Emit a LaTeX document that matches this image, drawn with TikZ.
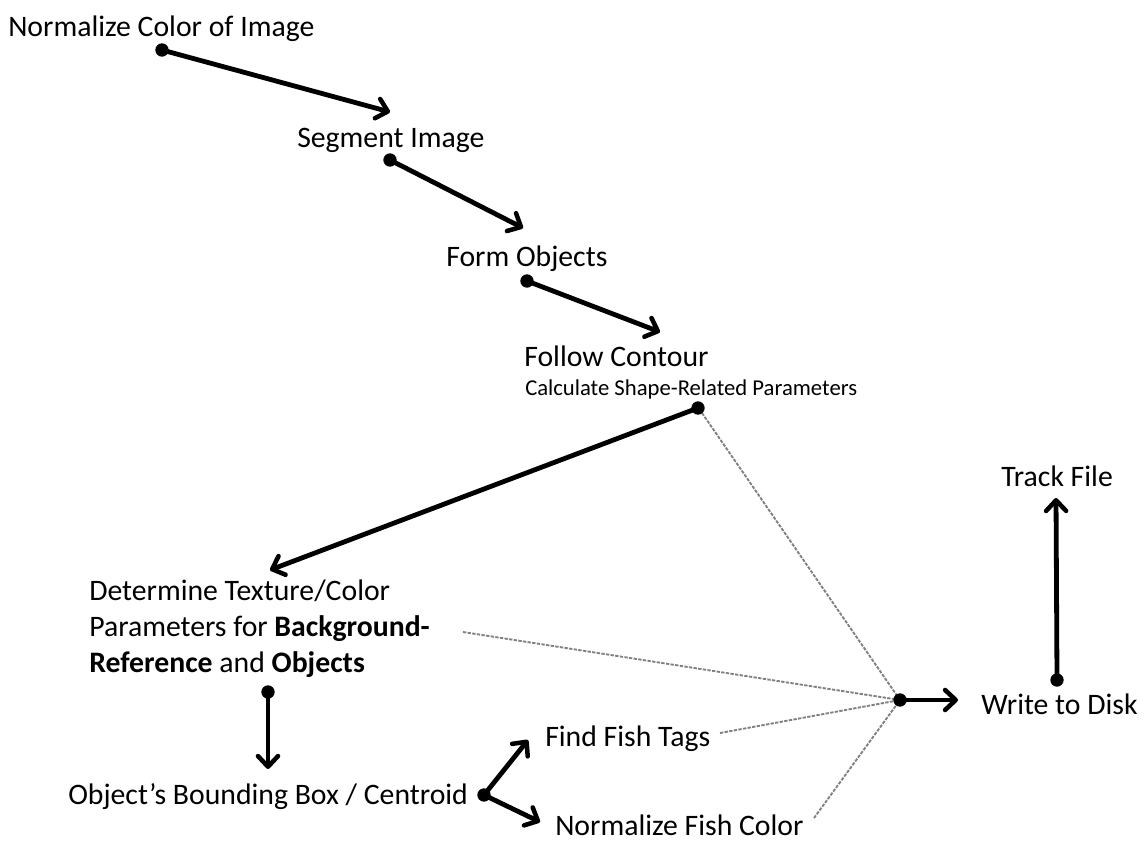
\documentclass[tikz,border=0pt]{standalone}
\usepackage{fontspec}
\setmainfont{Carlito}
\usetikzlibrary{arrows.meta}
\pgfdeclarelayer{fg}
\pgfsetlayers{main,fg}
\begin{document}
\begin{tikzpicture}[x=0.75pt,y=-0.75pt,
  lbl/.style={anchor=base west,inner sep=0pt,font=\fontsize{22.3}{27}\selectfont},
  small/.style={anchor=base west,inner sep=0pt,font=\fontsize{17}{20}\selectfont},
  dot/.style={circle,fill=black,inner sep=0pt,minimum size=10pt},
  arr/.style={line width=3.6pt,-{Straight Barb[length=8pt,width=15pt,line width=3.4pt,round]}},
  gline/.style={draw=black!50,line width=1.4pt,dash pattern=on 2.5pt off 1pt}]
\useasboundingbox (0,0) rectangle (1144,845);
% texts
\node[lbl] (norm) at (8,37) {Normalize Color of Image};
\node[lbl] (seg) at (297,147) {Segment Image};
\node[lbl] (form) at (446,266) {Form Objects};
\node[lbl] (follow) at (524,366) {Follow Contour};
\node[small] (calc) at (525,395) {Calculate Shape-Related Parameters};
\node[lbl,align=left,anchor=north west] (tex) at (89,580) {Determine Texture/Color\\Parameters for \textbf{Background-}\\\textbf{Reference} and \textbf{Objects}};
\node[lbl] (bbox) at (68,804) {Object’s Bounding Box / Centroid};
\node[lbl] (tags) at (545,746) {Find Fish Tags};
\node[lbl] (fcol) at (555,835) {Normalize Fish Color};
\node[lbl] (disk) at (981,714) {Write to Disk};
\node[lbl] (track) at (1001,486) {Track File};
% dots (on top)
\begin{pgfonlayer}{fg}
\node[dot] (d1) at (162,50) {};
\node[dot] (d2) at (390,160) {};
\node[dot] (d3) at (527,281) {};
\node[dot] (d4) at (698,408) {};
\node[dot] (d5) at (268,692) {};
\node[dot] (d6) at (484,795) {};
\node[dot] (hub) at (900,700) {};
\node[dot] (d8) at (1057,680) {};
\end{pgfonlayer}
% arrow ends
\coordinate (t1) at (390,112);
\coordinate (t2) at (523,228);
\coordinate (t3) at (660,332);
\coordinate (t4) at (270,570);
\coordinate (t5) at (268,769);
\coordinate (t6a) at (528,740);
\coordinate (t6b) at (540,822);
\coordinate (t7) at (958,700);
\coordinate (t8) at (1056,498);
% gray endpoints
\coordinate (g1) at (463,632);
\coordinate (g2) at (720,733);
\coordinate (g3) at (814,818);
\coordinate (g4) at (702,413);
% gray lines
\draw[gline] (g4) -- (hub.center);
\draw[gline] (g1) -- (hub.center);
\draw[gline] (g2) -- (hub.center);
\draw[gline] (g3) -- (hub.center);
% arrows
\draw[arr] (d1.center) -- (t1);
\draw[arr] (d2.center) -- (t2);
\draw[arr] (d3.center) -- (t3);
\draw[arr] (d4.center) -- (t4);
\draw[arr] (d5.center) -- (t5);
\draw[arr] (d6.center) -- (t6a);
\draw[arr] (d6.center) -- (t6b);
\draw[arr] (hub.center) -- (t7);
\draw[arr] (d8.center) -- (t8);
\end{tikzpicture}
\end{document}
